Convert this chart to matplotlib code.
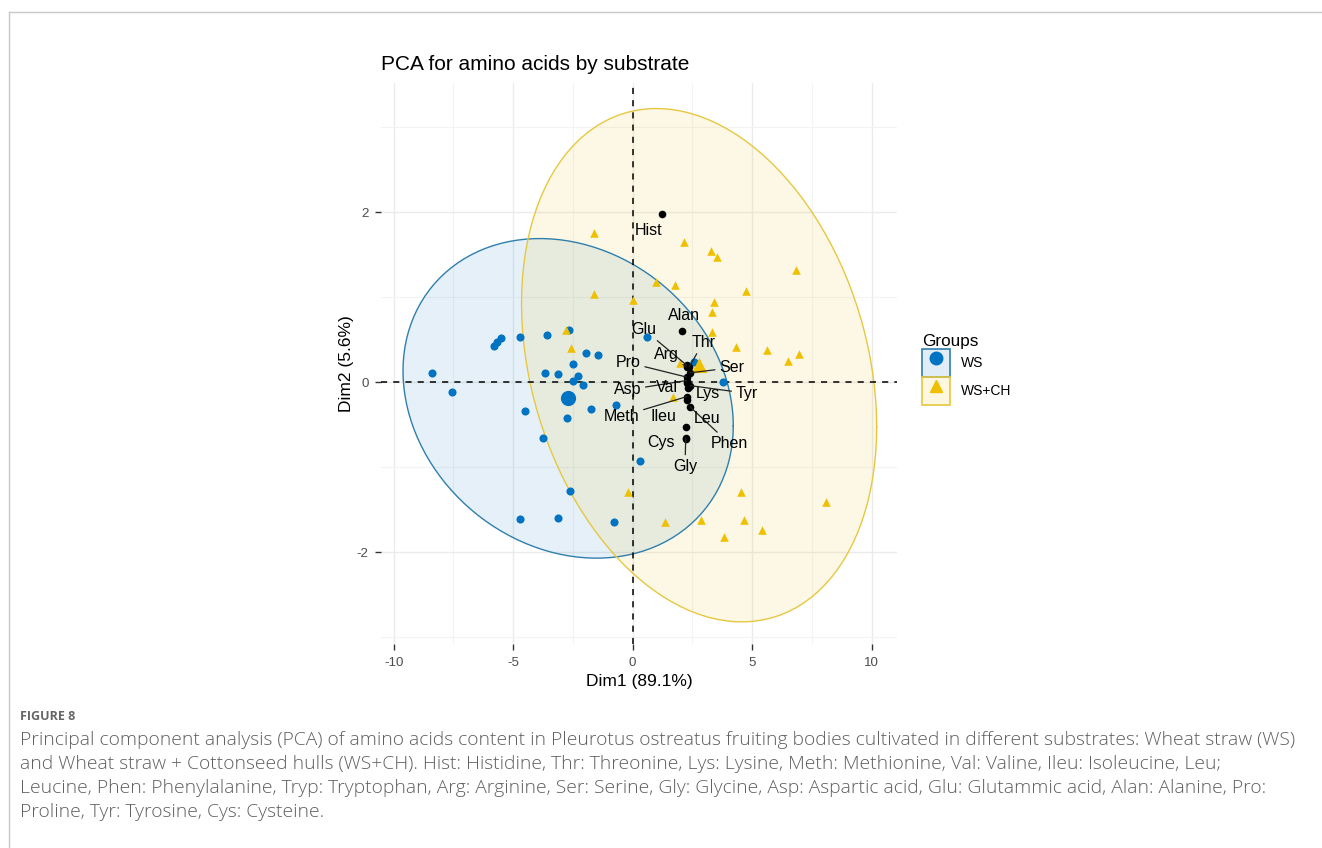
import numpy as np
import matplotlib
matplotlib.use('Agg')
import matplotlib.pyplot as plt
from matplotlib.patches import Patch, Polygon
from matplotlib.lines import Line2D

# individuals on Dim1 / Dim2
ws_x = [-8.38, -7.58, -5.81, -5.67, -5.50, -4.73, -3.58, -2.65, -4.49, -3.75,
        -3.65, -3.14, -2.51, -1.97, -1.47, -2.51, -2.30, -2.07, -2.75, -1.73,
        -0.69, 0.59, 0.31, -2.62, -4.73, -3.14, -0.80, 3.77, 2.57]
ws_y = [0.11, -0.12, 0.43, 0.47, 0.52, 0.53, 0.56, 0.61, -0.34, -0.66,
        0.11, 0.10, 0.22, 0.34, 0.32, 0.02, 0.07, -0.03, -0.42, -0.31,
        -0.27, 0.53, -0.93, -1.28, -1.61, -1.60, -1.65, 0.00, 0.24]

wsch_x = [-1.62, 2.15, 3.26, 3.54, 6.83, 0.96, 1.76, -1.62, 0.03, 4.74,
          3.41, 3.32, 3.32, -2.80, -2.58, 4.32, 5.64, 6.98, 6.49, 1.98,
          1.67, -0.20, 4.53, 8.07, 1.36, 2.86, 4.66, 5.40, 3.82]
wsch_y = [1.75, 1.65, 1.54, 1.47, 1.32, 1.18, 1.14, 1.04, 0.97, 1.07,
          0.94, 0.83, 0.59, 0.62, 0.40, 0.42, 0.38, 0.33, 0.25, 0.23,
          -0.17, -1.29, -1.29, -1.41, -1.64, -1.62, -1.62, -1.74, -1.82]

# group means and 95% ellipse spread (half-width x, half-height y, cross term)
ws_centre = [-2.70, -0.19]
ws_spread = [6.91, 1.88, -2.23]
wsch_centre = [2.78, 0.20]
wsch_spread = [7.43, 3.02, -5.40]

# amino acid variables
var_names = ['Hist', 'Alan', 'Glu', 'Arg', 'Thr', 'Pro', 'Ser', 'Asp', 'Val',
             'Lys', 'Tyr', 'Meth', 'Ileu', 'Phen', 'Leu', 'Cys', 'Gly']
var_x = [1.24, 2.08, 2.26, 2.26, 2.37, 2.26, 2.40, 2.26, 2.26,
         2.31, 2.40, 2.26, 2.26, 2.40, 2.22, 2.22, 2.22]
var_y = [1.98, 0.60, 0.20, 0.18, 0.18, 0.06, 0.11, 0.02, -0.01,
         -0.07, -0.04, -0.17, -0.21, -0.29, -0.53, -0.67, -0.66]

# repelled label placement
label_x = [0.65, 2.15, 0.47, 1.42, 2.95, -0.18, 4.14, -0.21, 1.42,
           3.16, 4.77, -0.46, 1.28, 4.04, 3.10, 1.18, 2.19]
label_y = [1.78, 0.78, 0.62, 0.33, 0.47, 0.23, 0.17, -0.09, -0.06,
           -0.13, -0.13, -0.40, -0.40, -0.72, -0.43, -0.71, -0.99]
no_segment = ['Hist', 'Alan', 'Val', 'Lys', 'Ileu', 'Leu', 'Cys']

groups = ['WS', 'WS+CH']
colors = ['#0073C2', '#EFC000']


def ellipse_points(centre, spread, segments=121):
    hx, hy, cxy = spread
    cov = np.array([[hx ** 2, cxy], [cxy, hy ** 2]])
    chol = np.linalg.cholesky(cov)
    t = np.linspace(0, 2 * np.pi, segments)
    circle = np.column_stack([np.cos(t), np.sin(t)])
    return np.array(centre) + circle @ chol.T


plt.rcParams['font.family'] = ['Liberation Sans', 'DejaVu Sans']
plt.rcParams['axes.unicode_minus'] = False

fig = plt.figure(figsize=(13.22, 8.48), dpi=100)
ax = fig.add_axes([381 / 1322, 1 - 644 / 848, (897 - 381) / 1322, (644 - 83) / 848])

ax.set_xlim(-10.53, 11.06)
ax.set_ylim(-3.08, 3.52)

ax.set_xticks([-10, -5, 0, 5, 10])
ax.set_xticks([-7.5, -2.5, 2.5, 7.5], minor=True)
ax.set_yticks([-2, 0, 2])
ax.set_yticks([-3, -1, 1, 3], minor=True)
ax.grid(which='major', color='#ebebeb', lw=1.0)
ax.grid(which='minor', color='#f3f3f3', lw=0.8)
ax.set_axisbelow(True)
for s in ax.spines.values():
    s.set_visible(False)
ax.tick_params(which='major', length=4, width=1, color='#333333',
               labelsize=9.6, labelcolor='#4d4d4d', pad=5)
ax.tick_params(which='minor', length=0)

group_x = [ws_x, wsch_x]
group_y = [ws_y, wsch_y]
centres = [ws_centre, wsch_centre]
spreads = [ws_spread, wsch_spread]
markers = ['o', '^']
edge_colors = ['#2f7fae', '#e6c840']

for cen, spr, c, ec in zip(centres, spreads, colors, edge_colors):
    ell = ellipse_points(cen, spr)
    ax.add_patch(Polygon(ell, closed=True, facecolor=c, alpha=0.1, edgecolor='none', zorder=1))
    ax.plot(ell[:, 0], ell[:, 1], color=ec, lw=1.0, zorder=1.5)

ax.axhline(0, color='black', ls=(0, (4, 4)), lw=1.1, zorder=2)
ax.axvline(0, color='black', ls=(0, (4, 4)), lw=1.1, zorder=2)

for gx, gy, cen, c, m in zip(group_x, group_y, centres, colors, markers):
    ax.scatter(gx, gy, s=34 if m == 'o' else 38, marker=m, color=c, linewidths=0, zorder=3)
    ax.scatter(cen[0], cen[1], s=120, marker=m, color=c, linewidths=0, zorder=3)

ax.scatter(var_x, var_y, s=30, color='black', linewidths=0, zorder=4)
for name, vx, vy, lx, ly in zip(var_names, var_x, var_y, label_x, label_y):
    if name in no_segment:
        ax.text(lx, ly, name, ha='center', va='center', fontsize=11.5, zorder=5)
    else:
        ax.annotate(name, xy=(vx, vy), xytext=(lx, ly), ha='center', va='center',
                    fontsize=11.5, zorder=5,
                    arrowprops=dict(arrowstyle='-', color='#222222', lw=0.9,
                                    shrinkA=1, shrinkB=0))

ax.set_xlabel('Dim1 (89.1%)', fontsize=12.5, labelpad=4)
ax.set_ylabel('Dim2 (5.6%)', fontsize=12.5, labelpad=2)
fig.text(381 / 1322, 1 - 65 / 848, 'PCA for amino acids by substrate',
         fontsize=15, ha='left', va='center')

handles = []
for c, ec, m in zip(colors, edge_colors, markers):
    box = Patch(facecolor=matplotlib.colors.to_rgba(c, 0.12), edgecolor=ec, lw=1.2)
    mk = Line2D([], [], marker=m, color=c, ls='none', markersize=9)
    handles.append((box, mk))
fig.legend(handles, groups, title='Groups', loc='upper left',
           bbox_to_anchor=(915 / 1322, 1 - 327 / 848), frameon=False,
           fontsize=10, title_fontsize=12.3, handlelength=2.0, handleheight=2.7,
           handletextpad=0.8, labelspacing=0.02, borderpad=0, alignment='left')

# page frame and caption
fig.add_artist(Line2D([9 / 1322, 1], [1 - 12 / 848, 1 - 12 / 848],
                      transform=fig.transFigure, color='#c8c8c8', lw=1))
fig.add_artist(Line2D([9 / 1322, 9 / 1322], [0, 1 - 12 / 848],
                      transform=fig.transFigure, color='#c8c8c8', lw=1))

fig.text(20 / 1322, 1 - 716 / 848, 'FIGURE 8', fontsize=9, fontweight='bold',
         color='#666666', family='Open Sans', va='center')
caption = [
    'Principal component analysis (PCA) of amino acids content in Pleurotus ostreatus fruiting bodies cultivated in different substrates: Wheat straw (WS)',
    'and Wheat straw + Cottonseed hulls (WS+CH). Hist: Histidine, Thr: Threonine, Lys: Lysine, Meth: Methionine, Val: Valine, Ileu: Isoleucine, Leu;',
    'Leucine, Phen: Phenylalanine, Tryp: Tryptophan, Arg: Arginine, Ser: Serine, Gly: Glycine, Asp: Aspartic acid, Glu: Glutammic acid, Alan: Alanine, Pro:',
    'Proline, Tyr: Tyrosine, Cys: Cysteine.',
]
for i, line in enumerate(caption):
    fig.text(20 / 1322, 1 - (740 + 24 * i) / 848, line, fontsize=13.9, fontweight='light',
             color='#5f5f5f', family='Open Sans', va='center')

fig.savefig('out.png', dpi=100, facecolor='white')
